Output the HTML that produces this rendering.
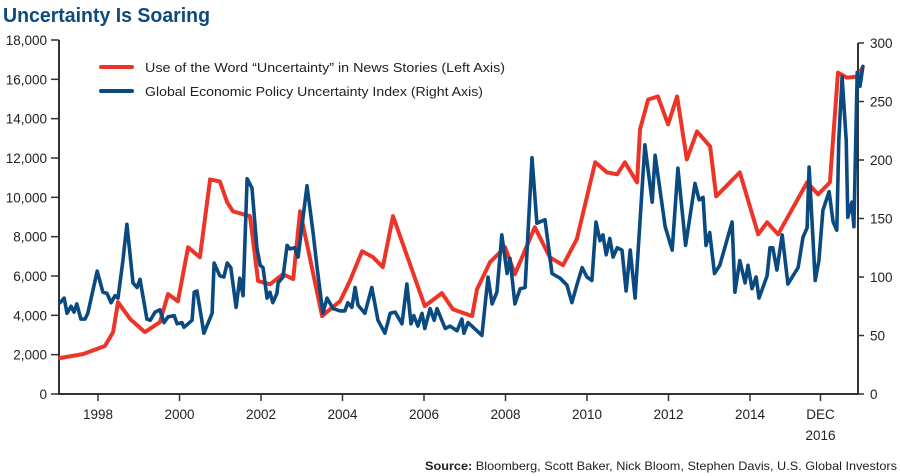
<!DOCTYPE html>
<html><head><meta charset="utf-8"><style>
html,body{margin:0;padding:0;background:#fff;}
svg{display:block;font-family:"Liberation Sans",sans-serif;}
</style></head><body>
<svg id="chart" width="900" height="476" viewBox="0 0 900 476">
<text x="3" y="22" font-size="20" font-weight="bold" fill="#0d4a80" textLength="207" lengthAdjust="spacingAndGlyphs">Uncertainty Is Soaring</text>
<g>
 <line x1="101" y1="67" x2="132" y2="67" stroke="#ec3528" stroke-width="4" stroke-linecap="round"/>
 <text x="145" y="72" font-size="13" fill="#222" textLength="360" lengthAdjust="spacingAndGlyphs">Use of the Word “Uncertainty” in News Stories (Left Axis)</text>
 <line x1="101" y1="91" x2="132" y2="91" stroke="#0b4a80" stroke-width="4" stroke-linecap="round"/>
 <text x="145" y="96" font-size="13" fill="#222" textLength="338" lengthAdjust="spacingAndGlyphs">Global Economic Policy Uncertainty Index (Right Axis)</text>
</g>
<g id="axes"></g>
<g id="series"></g>
<text x="897" y="470" font-size="12" fill="#222" text-anchor="end" textLength="472" lengthAdjust="spacingAndGlyphs"><tspan font-weight="bold">Source:</tspan> Bloomberg, Scott Baker, Nick Bloom, Stephen Davis, U.S. Global Investors</text>
</svg>
<script>
const leftTicks=[0,2000,4000,6000,8000,10000,12000,14000,16000,18000];
const leftTickLabels=["0","2,000","4,000","6,000","8,000","10,000","12,000","14,000","16,000","18,000"];
const rightTicks=[0,50,100,150,200,250,300];
const xTickYears=[1998,2000,2002,2004,2006,2008,2010,2012,2014,2016];
const xTickLabels=["1998","2000","2002","2004","2006","2008","2010","2012","2014","DEC"];
const newsYears=[1997.07,1997.63,1998.17,1998.37,1998.49,1998.79,1999.15,1999.52,1999.72,1999.96,2000.21,2000.5,2000.75,2000.99,2001.17,2001.31,2001.73,2001.93,2002.22,2002.54,2002.79,2002.96,2003.5,2003.64,2003.94,2004.18,2004.48,2004.75,2004.99,2005.24,2006.02,2006.44,2006.71,2007.18,2007.3,2007.62,2007.99,2008.23,2008.72,2009.09,2009.41,2009.75,2010.2,2010.49,2010.74,2010.93,2011.23,2011.3,2011.5,2011.74,2011.99,2012.21,2012.45,2012.7,2013.02,2013.17,2013.75,2014.2,2014.42,2014.69,2015.4,2015.67,2015.96,2016.16,2016.38,2016.63,2016.75];
const newsValues=[1830,2030,2440,3150,4670,3810,3150,3650,5080,4720,7460,6950,10910,10810,9750,9290,9040,5740,5580,6090,5840,9290,3960,4210,4720,5740,7260,6950,6450,9040,4470,5130,4310,3960,5330,6700,7460,6090,8480,6950,6550,7870,11780,11270,11170,11780,10760,13450,14970,15130,13710,15130,11930,13350,12590,10050,11270,8120,8730,8120,10760,10150,10760,16340,16090,16140,16550];
const epuYears=[1997.07,1997.17,1997.24,1997.34,1997.41,1997.48,1997.58,1997.68,1997.75,1997.98,1998.12,1998.22,1998.32,1998.42,1998.49,1998.61,1998.71,1998.86,1998.96,1999.03,1999.2,1999.28,1999.4,1999.52,1999.62,1999.72,1999.87,1999.94,2000.06,2000.11,2000.31,2000.36,2000.43,2000.6,2000.8,2000.85,2000.99,2001.09,2001.17,2001.26,2001.39,2001.48,2001.56,2001.66,2001.78,2001.9,2001.98,2002.05,2002.15,2002.22,2002.29,2002.39,2002.42,2002.54,2002.64,2002.71,2002.83,2002.91,2003.13,2003.28,2003.37,2003.52,2003.62,2003.77,2003.94,2004.06,2004.13,2004.23,2004.31,2004.38,2004.55,2004.72,2004.87,2005.04,2005.17,2005.29,2005.46,2005.58,2005.68,2005.75,2005.85,2005.95,2006.02,2006.15,2006.25,2006.32,2006.52,2006.64,2006.81,2006.93,2006.98,2007.08,2007.3,2007.42,2007.57,2007.67,2007.79,2007.91,2008.04,2008.11,2008.23,2008.36,2008.48,2008.65,2008.77,2008.97,2009.14,2009.34,2009.51,2009.63,2009.75,2009.88,2010.0,2010.12,2010.22,2010.32,2010.39,2010.47,2010.56,2010.64,2010.74,2010.86,2010.96,2011.06,2011.18,2011.42,2011.6,2011.67,2011.92,2012.09,2012.23,2012.42,2012.65,2012.75,2012.85,2012.92,2013.01,2013.13,2013.26,2013.56,2013.63,2013.75,2013.88,2013.95,2014.05,2014.15,2014.22,2014.42,2014.49,2014.56,2014.66,2014.79,2014.93,2015.18,2015.3,2015.4,2015.45,2015.6,2015.69,2015.79,2015.94,2016.04,2016.13,2016.18,2016.26,2016.36,2016.4,2016.5,2016.55,2016.63,2016.7,2016.77];
const epuValues=[78,82,69,75,70,77,64,64,69,105,87,86,78,84,82,114,145,95,91,98,64,63,70,72,61,66,67,60,61,57,63,87,88,52,69,112,101,100,112,108,74,99,84,184,176,125,110,108,82,87,78,86,95,100,127,124,125,117,178,137,110,69,82,73,71,71,78,74,91,76,69,91,63,52,69,70,60,94,60,67,58,69,56,73,63,73,56,58,54,64,52,61,54,50,100,77,87,136,103,116,77,90,91,202,146,149,103,99,93,78,93,108,100,97,147,131,136,119,133,117,125,123,88,123,82,213,164,204,143,123,193,127,180,166,168,127,138,103,110,147,87,114,95,110,90,100,82,101,125,125,106,136,94,108,134,142,194,97,114,157,173,147,140,217,271,217,151,164,143,275,263,280];

const NS="http://www.w3.org/2000/svg";
const X0=59,X1=858,YB=394,YT=40;
const xScale=y=>98+(y-1998)*40.75;
const yLeft=v=>YB-(v/18000)*(YB-YT);
const yRight=v=>YB-(v/300)*(YB-43);
function mk(tag,attrs,parent){const e=document.createElementNS(NS,tag);for(const k in attrs)e.setAttribute(k,attrs[k]);parent.appendChild(e);return e;}
const axes=document.getElementById('axes');
const series=document.getElementById('series');
const ink="#333";
let la=mk('line',{x1:X0,y1:YT,x2:X0,y2:YB+1,stroke:ink,'stroke-width':2},axes);


let ra=mk('line',{x1:X1,y1:43,x2:X1,y2:YB+1,stroke:ink,'stroke-width':2},axes);


let xa=mk('line',{x1:X0-1,y1:YB,x2:X1+1,y2:YB,stroke:ink,'stroke-width':2},axes);


leftTicks.forEach((v,i)=>{const y=yLeft(v);
 const t=mk('line',{x1:X0-8,y1:y,x2:X0,y2:y,stroke:ink,'stroke-width':1.5},axes);
 
 
 const l=mk('text',{x:X0-12,y:y+5,'font-size':13.5,'text-anchor':'end',fill:'#222'},axes);l.textContent=leftTickLabels[i];
 
 });
rightTicks.forEach(v=>{const y=yRight(v);
 const t=mk('line',{x1:X1,y1:y,x2:X1+6,y2:y,stroke:ink,'stroke-width':1.5},axes);
 
 
 const l=mk('text',{x:X1+12,y:y+5,'font-size':13.5,fill:'#222'},axes);l.textContent=String(v);
 
 });
xTickYears.forEach((yr,i)=>{const x=xScale(yr)-(yr===2016?11:0);
 const t=mk('line',{x1:x,y1:YB,x2:x,y2:YB+7,stroke:ink,'stroke-width':1.5},axes);
 
 
 const l=mk('text',{x:x,y:YB+25,'font-size':13.5,'text-anchor':'middle',fill:'#222'},axes);l.textContent=xTickLabels[i];
 
 
 if(yr===2016){const l2=mk('text',{x:x,y:YB+46,'font-size':13.5,'text-anchor':'middle',fill:'#222'},axes);l2.textContent="2016";
  
  }});
const pts=(xs,vs,f)=>xs.map((x,i)=>xScale(x).toFixed(1)+','+f(vs[i]).toFixed(1)).join(' ');
const red=mk('polyline',{points:pts(newsYears,newsValues,yLeft),fill:'none',stroke:'#ec3528','stroke-width':4,'stroke-linejoin':'round','stroke-linecap':'round'},series);


const blue=mk('polyline',{points:pts(epuYears,epuValues,yRight),fill:'none',stroke:'#0b4a80','stroke-width':3.6,'stroke-linejoin':'round','stroke-linecap':'round'},series);


</script>
</body></html>
